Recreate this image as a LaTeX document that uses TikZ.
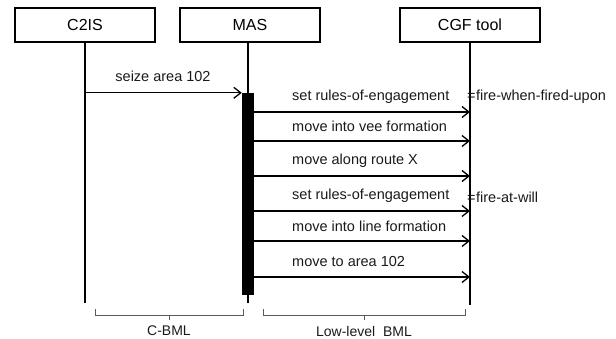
\documentclass[tikz,border=0pt]{standalone}
\usepackage{fontspec}
\setmainfont{Liberation Sans}
\usetikzlibrary{arrows.meta}
\definecolor{braceg}{HTML}{5A5A5A}
\definecolor{inkc}{HTML}{1A1A1A}
\tikzset{
  actor/.style={draw, line width=1.2pt, minimum width=140pt, minimum height=34pt,
    inner sep=0pt, font=\fontsize{16}{18}\selectfont},
  life/.style={line width=1.3pt},
  msg/.style={line width=1.3pt, -{Straight Barb[length=7pt,width=11pt,line width=1.3pt]}},
  msglabel/.style={anchor=west, inner sep=0pt, text=inkc, font=\fontsize{14.5}{16}\selectfont},
  bracket/.style={braceg, line width=1pt},
}
\begin{document}
\begin{tikzpicture}[x=1pt,y=-1pt]
  \useasboundingbox (0,0) rectangle (616,339);
  \node[actor] (c2is) at (85,25) {C2IS};
  \node[actor] (mas)  at (250,25) {MAS};
  \node[actor] (cgf)  at (470,25) {CGF tool};
  \coordinate (c2isEnd) at (85,303);
  \coordinate (masEnd)  at (248,303);
  \coordinate (cgfEnd)  at (470,305);
  \draw[life] (c2is.south) -- (c2isEnd);
  \draw[life] (mas.south -| masEnd) -- (masEnd);
  \draw[life] (cgf.south) -- (cgfEnd);
  \node[fill, minimum width=12pt, minimum height=202pt, inner sep=0pt] (bar) at (248,194) {};
  \draw[msg] (c2is |- bar.north) -- (bar.north west);
  \node[msglabel, anchor=center] (seize) at (163,76) {seize area 102};
  \foreach \i/\y/\txt in {1/112/set rules-of-engagement, 2/141/move into vee formation,
      3/176/move along route X, 4/211/set rules-of-engagement,
      5/241/move into line formation, 6/277/move to area 102}{
    \draw[msg] (bar.east |- 0,\y) -- (cgf |- 0,\y);
    \node[msglabel] (lbl\i) at (292,\y-15) {\txt};}
  \node[msglabel] (roe1) at (467,97) {=\hspace{0.5pt}fire-when-fired-upon};
  \node[msglabel] (roe2) at (467,197) {=\hspace{0.5pt}fire-at-will};
  \draw[bracket] (95,309) -- (95,315) -- (243,315) -- (243,309);
  \draw[bracket] (169,315) -- (169,320);
  \node[msglabel, anchor=center, font=\fontsize{14}{16}\selectfont] (cbml) at (169,331) {C-BML};
  \draw[bracket] (263,309) -- (263,315) -- (465,315) -- (465,309);
  \draw[bracket] (364,315) -- (364,320);
  \node[msglabel, anchor=center, font=\fontsize{14}{16}\selectfont] (llbml) at (364,331) {Low-level\ \ BML};
\end{tikzpicture}
\end{document}
